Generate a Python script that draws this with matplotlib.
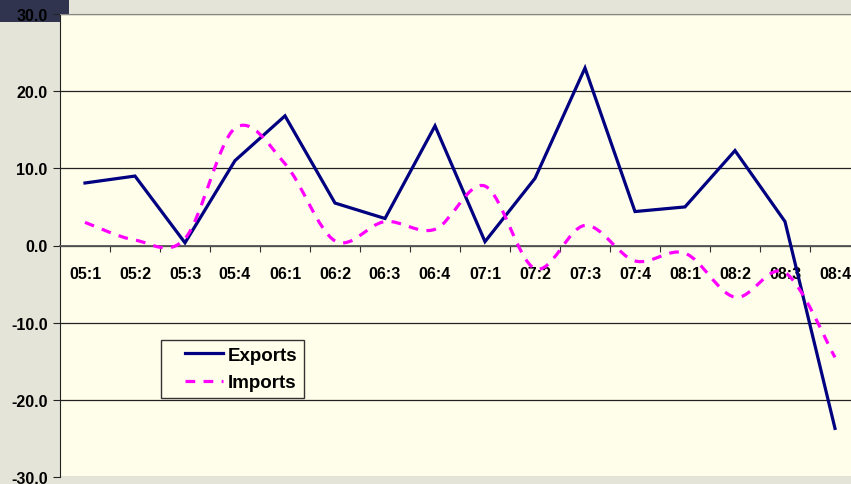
import numpy as np
import matplotlib.pyplot as plt
from matplotlib.path import Path
from matplotlib.patches import PathPatch, Rectangle
from matplotlib.lines import Line2D
from matplotlib.legend_handler import HandlerLine2D

quarters = ['05:1', '05:2', '05:3', '05:4', '06:1', '06:2', '06:3', '06:4',
            '07:1', '07:2', '07:3', '07:4', '08:1', '08:2', '08:3', '08:4']
exports = [8.1, 9.0, 0.35, 11.0, 16.8, 5.5, 3.5, 15.5,
           0.5, 8.7, 23.0, 4.4, 5.0, 12.3, 3.1, -23.7]
imports = [3.0, 0.7, 0.9, 15.2, 10.6, 0.6, 3.1, 2.1,
           7.7, -3.0, 2.6, -2.0, -1.0, -6.7, -3.5, -14.5]

plt.rcParams['font.family'] = ['Liberation Sans', 'DejaVu Sans']
plt.rcParams['font.weight'] = 'bold'
plt.rcParams['lines.scale_dashes'] = False

W, H = 851, 485
fig = plt.figure(figsize=(W / 100, H / 100), dpi=100)
fig.patch.set_facecolor('#E4E4D8')
fig.patches.append(Rectangle((0, 1 - 23 / H), 69 / W, 23 / H, transform=fig.transFigure,
                             facecolor='#30344F', edgecolor='none', zorder=-5))

ax = fig.add_axes([60 / W, 7 / H, 800 / W, 463 / H])
ax.set_facecolor('#FFFEEA')

x = np.arange(len(quarters)) + 0.5


def smooth_path(xs, ys):
    # bezier segments through each point, like a spreadsheet "smoothed line"
    pts = np.column_stack([xs, ys])
    ext = np.vstack([pts[0], pts, pts[-1]])
    verts = [tuple(pts[0])]
    codes = [Path.MOVETO]
    for i in range(1, len(ext) - 2):
        p0, p1, p2, p3 = ext[i - 1], ext[i], ext[i + 1], ext[i + 2]
        c1 = p1 + (p2 - p0) / 6
        c2 = p2 - (p3 - p1) / 6
        verts += [tuple(c1), tuple(c2), tuple(p2)]
        codes += [Path.CURVE4] * 3
    return Path(verts, codes)


ax.set_xlim(0, 16)
ax.set_ylim(-30, 30)
yt = np.arange(-30, 31, 10)
ax.set_yticks(yt)
ax.set_yticklabels([f'{v:.1f}' for v in yt], fontsize=11.5)
ax.grid(axis='y', color='#222222', linewidth=0.9)
ax.set_axisbelow(True)

ax.spines['bottom'].set_position(('data', 0))
ax.spines['bottom'].set_color('#555555')
ax.spines['bottom'].set_linewidth(1.3)
ax.spines['top'].set_color('#888888')
ax.spines['right'].set_visible(False)
ax.spines['left'].set_color('#222222')
ax.set_xticks(np.arange(1, 16))
ax.set_xticklabels([])
ax.set_xticks(x, minor=True)
ax.set_xticklabels(quarters, minor=True, fontsize=11.5)
ax.tick_params(axis='x', which='major', direction='out', length=4, color='#333333')
ax.tick_params(axis='x', which='minor', length=0, pad=15)
ax.tick_params(axis='y', direction='out', length=5, pad=4, color='#222222')

ax.plot(x, exports, color='#000080', linewidth=2.3, solid_joinstyle='miter', zorder=3)
imp_patch = PathPatch(smooth_path(x, imports), facecolor='none', edgecolor='#FF00FF',
                      linewidth=2.3, linestyle=(0, (7, 6)), zorder=3, capstyle='butt')
ax.add_patch(imp_patch)

handles = [Line2D([], [], color='#000080', linewidth=2.3),
           Line2D([], [], color='#FF00FF', linewidth=2.3, dashes=(7, 6))]
leg = ax.legend(handles, ['Exports', 'Imports'], loc='upper left',
                bbox_to_anchor=(161 / W, 1 - 341 / H), bbox_transform=fig.transFigure,
                borderaxespad=0, fancybox=False, framealpha=1, fontsize=13.5,
                handlelength=2.95, handletextpad=0.27, borderpad=0.35, labelspacing=0.55,
                handler_map={Line2D: HandlerLine2D(xpad=0.93)})
leg.get_frame().set_edgecolor('#333333')
leg.get_frame().set_facecolor('#FFFEEA')
leg.get_frame().set_linewidth(1.0)

fig.savefig('out.png', dpi=100, facecolor=fig.get_facecolor())
